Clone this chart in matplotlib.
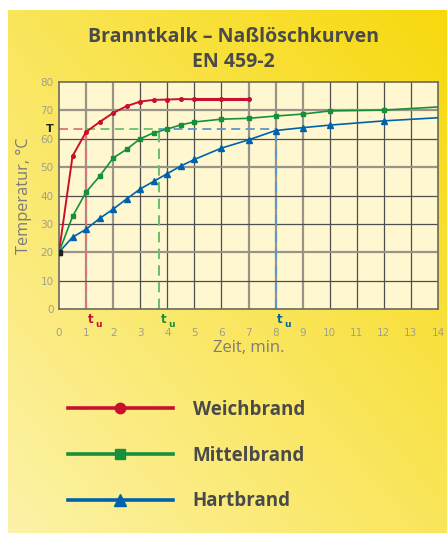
import numpy as np
import matplotlib
matplotlib.use("Agg")
from matplotlib import pyplot as plt
from matplotlib.lines import Line2D

weich_t = [0, 0.5, 1, 1.5, 2, 2.5, 3, 3.5, 4, 4.5, 5, 6, 7]
weich_T = [20, 53.9, 62.4, 65.9, 69.1, 71.5, 73.1, 73.7, 73.8, 74.0, 73.9, 73.9, 73.9]

mittel_t = [0, 0.5, 1, 1.5, 2, 2.5, 3, 3.5, 4, 4.5, 5, 6, 7, 8, 9, 10, 12]
mittel_T = [20, 32.6, 41.2, 46.8, 53.2, 56.3, 60.0, 62.1, 63.4, 64.9, 65.9, 66.9, 67.2,
            68.0, 68.7, 69.8, 70.1]
mittel_end = (14, 71.2)

hart_t = [0, 0.5, 1, 1.5, 2, 2.5, 3, 3.5, 4, 4.5, 5, 6, 7, 8, 9, 10, 12]
hart_T = [20, 25.3, 28.1, 31.9, 35.2, 38.8, 42.3, 45.0, 47.7, 50.4, 52.7, 56.7, 59.6,
          62.9, 63.9, 64.8, 66.3]
hart_end = (14, 67.4)

T_u = 63.3
tu_werte = [1.0, 3.7, 8.0]

labels = ["Weichbrand", "Mittelbrand", "Hartbrand"]
farben = ["#c8102e", "#16903a", "#0062ad"]
farben_hell = ["#e0707c", "#6cbf6c", "#5a98cc"]

grau = "#4a4a4a"

fig = plt.figure(figsize=(4.47, 5.33), dpi=100)
fig.patch.set_facecolor("white")

# gelber Hintergrund mit Verlauf
bg = fig.add_axes([8 / 447, 0, 1 - 8 / 447, 1 - 10 / 533], zorder=0)
xx, yy = np.meshgrid(np.linspace(0, 1, 200), np.linspace(0, 1, 200))
t = np.clip((xx + (1 - yy)) / 2, 0, 1)  # yy=0 oben
c_hell = np.array([0.99, 0.95, 0.66])
c_dunkel = np.array([0.97, 0.85, 0.05])
img = c_hell[None, None, :] * (1 - t[..., None]) + c_dunkel[None, None, :] * t[..., None]
bg.imshow(img[::-1], aspect="auto", extent=[0, 1, 0, 1], origin="lower")
bg.axis("off")

ax = fig.add_axes([59 / 447, 1 - 309 / 533, 379 / 447, 227 / 533], zorder=1)
ax.set_facecolor("#fff7d0")
ax.set_xlim(0, 14)
ax.set_ylim(0, 80)

# Gitter
for x in range(1, 14):
    if x in (1, 2, 7, 8, 9):
        ax.axvline(x, color="#9a9488", lw=1.6, zorder=1)
    else:
        ax.axvline(x, color="#4f4f4f", lw=0.9, zorder=1)
for y in range(10, 80, 10):
    if y in (20, 50, 70):
        ax.axhline(y, color="#9a9488", lw=1.6, zorder=1)
    else:
        ax.axhline(y, color="#4f4f4f", lw=0.9, zorder=1)
for s in ax.spines.values():
    s.set_color("#6a6a60")
    s.set_linewidth(1.2)

# t_u Hilfslinien
starts = [0, tu_werte[0], tu_werte[1]]
for x0, x1, fh in zip(starts, tu_werte, farben_hell):
    ax.plot([x0, x1], [T_u, T_u], color=fh, lw=1.3, ls=(0, (5, 3)), zorder=2)
    ax.plot([x1, x1], [0, T_u], color=fh, lw=1.5, ls=(0, (5, 3)), zorder=2)

# Kurven
ax.plot(weich_t, weich_T, color=farben[0], lw=1.4, marker="o", ms=2.6, zorder=4)
ax.plot([5, 7], [73.9, 73.9], color=farben[0], lw=2.2, zorder=4)
ax.plot(mittel_t + [mittel_end[0]], mittel_T + [mittel_end[1]], color=farben[1], lw=1.2,
        zorder=4)
ax.plot(mittel_t, mittel_T, color=farben[1], lw=0, marker="s", ms=3.4, zorder=4)
ax.plot(hart_t + [hart_end[0]], hart_T + [hart_end[1]], color=farben[2], lw=1.2, zorder=4)
ax.plot(hart_t, hart_T, color=farben[2], lw=0, marker="^", ms=4.6, zorder=4)
ax.plot([0], [20], color="#222222", marker="s", ms=3.6, lw=0, zorder=5)

# Achsen
ax.set_xticks(range(0, 15))
ax.set_yticks(range(0, 81, 10))
ax.tick_params(length=0, labelsize=7.5, colors="#a09f90", pad=4)
ax.tick_params(axis="x", pad=14)
for lab in ax.get_xticklabels() + ax.get_yticklabels():
    lab.set_family(["DejaVu Sans Condensed", "DejaVu Sans"])
ax.text(-0.2, T_u, "T", ha="right", va="center", fontsize=8, fontweight="bold",
        color="#222222")
for x, f in zip(tu_werte, farben):
    ax.text(x + 0.05, -1.5, "t", ha="left", va="top", fontsize=8.5, fontweight="bold",
            color=f, family="DejaVu Sans Condensed")
    ax.text(x + 0.33, -4.0, "u", ha="left", va="top", fontsize=6.5, fontweight="bold",
            color=f, family="DejaVu Sans Condensed")

ax.set_xlabel("Zeit, min.", fontsize=12, color="#7c7c78", labelpad=1, family="Open Sans")
ax.set_ylabel("Temperatur, °C", fontsize=11.8, color="#7c7c78", labelpad=6, family="Open Sans")

fig.text(233 / 447, 1 - 37 / 533, "Branntkalk – Naßlöschkurven", ha="center", va="center",
         fontsize=14, fontweight="bold", color=grau, family="Open Sans")
fig.text(233 / 447, 1 - 62 / 533, "EN 459-2", ha="center", va="center",
         fontsize=14, fontweight="bold", color=grau, family="Open Sans")

# Legende
handles = [
    Line2D([], [], color=farben[0], lw=2.6, marker="o", ms=7.5),
    Line2D([], [], color=farben[1], lw=2.6, marker="s", ms=7.5),
    Line2D([], [], color=farben[2], lw=2.6, marker="^", ms=8.5),
]
leg = fig.legend(handles, labels, loc="upper left", bbox_to_anchor=(51 / 447, 1 - 383 / 533),
                 frameon=False, numpoints=1, handlelength=5.6, handletextpad=1.05,
                 labelspacing=1.37, prop={"family": "Open Sans", "weight": "bold", "size": 13.5})
for txt in leg.get_texts():
    txt.set_color(grau)

fig.savefig("out.png", dpi=100)
